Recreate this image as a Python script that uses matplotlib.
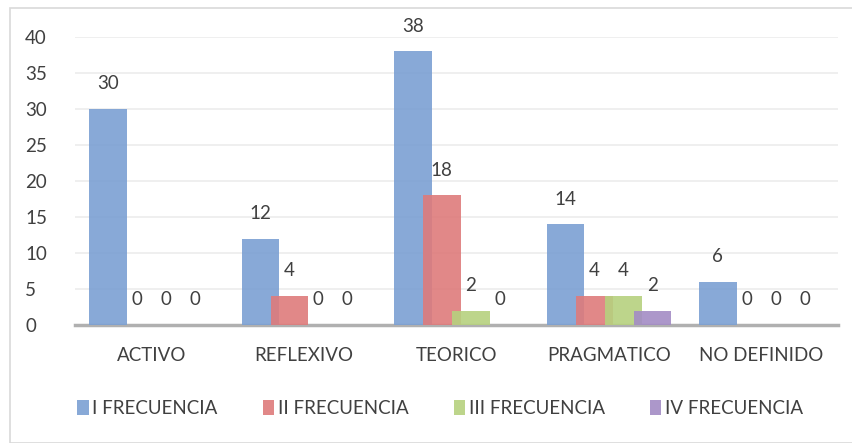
import matplotlib
matplotlib.use("Agg")
import matplotlib.pyplot as plt
import numpy as np
from matplotlib.patches import Rectangle

categories = ["ACTIVO", "REFLEXIVO", "TEORICO", "PRAGMATICO", "NO DEFINIDO"]
series_names = ["I FRECUENCIA", "II FRECUENCIA", "III FRECUENCIA", "IV FRECUENCIA"]
freq_1 = [30, 12, 38, 14, 6]
freq_2 = [0, 4, 18, 4, 0]
freq_3 = [0, 0, 2, 4, 0]
freq_4 = [0, 0, 0, 2, 0]
colors = ["#7ba0d3", "#de7b7b", "#b6d17f", "#a38cc5"]

plt.rcParams["font.family"] = ["Lato", "DejaVu Sans"]

fig = plt.figure(figsize=(8.53, 4.43), dpi=100)
ax = fig.add_axes([0.088, 0.2664, 0.894, 0.65])

# frame around the whole chart
fig.patches.append(Rectangle((10 / 853, 0.0), 1.0, 1 - 8 / 443, transform=fig.transFigure,
                             fill=False, edgecolor="#d9d9d9", linewidth=1.2))

x = np.arange(len(categories))
step = 0.19
width = 0.245
offsets = (np.arange(4) - 1.5) * step

for i, vals in enumerate([freq_1, freq_2, freq_3, freq_4]):
    pos = x + offsets[i]
    ax.bar(pos, vals, width=width, color=colors[i], alpha=0.9, label=series_names[i], zorder=3)
    for p, v in zip(pos, vals):
        ax.text(p, v + 3.5, str(v), ha="center", va="center", fontsize=13.5, color="#404040",
                clip_on=False, zorder=4)

ax.set_xlim(-0.5, len(categories) - 0.5)
ax.set_ylim(0, 40)
ax.set_yticks(range(0, 41, 5))
ax.yaxis.grid(True, color="#ececec", linewidth=1.2, zorder=0)
ax.set_axisbelow(True)
for s in ["top", "right", "left"]:
    ax.spines[s].set_visible(False)
ax.spines["bottom"].set_color("#b0b0b0")
ax.spines["bottom"].set_linewidth(2.5)
ax.set_xticks(x)
ax.set_xticklabels(categories)
ax.tick_params(axis="both", length=0, labelsize=13.5, labelcolor="#404040")
ax.tick_params(axis="x", pad=16)
ax.tick_params(axis="y", pad=36)
for t in ax.get_yticklabels():
    t.set_horizontalalignment("left")

leg = fig.legend(loc="center", bbox_to_anchor=(0.516, 0.078), ncol=4, frameon=False,
                 fontsize=13.5, handlelength=0.6, handleheight=0.9, handletextpad=0.2,
                 columnspacing=2.4, labelcolor="#404040")

fig.savefig("out.png", dpi=100, facecolor="white")
